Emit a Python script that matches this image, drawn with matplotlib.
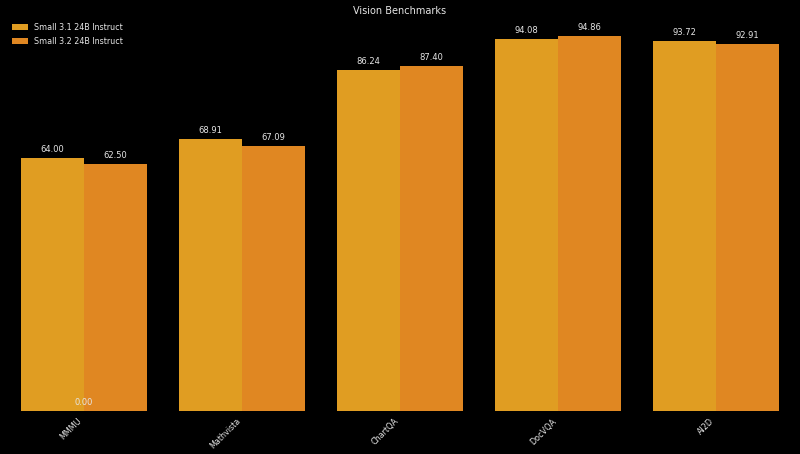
import numpy as np
import matplotlib.pyplot as plt

# datos del grafico
benchmarks = ['MMMU', 'Mathvista', 'ChartQA', 'DocVQA', 'AI2D']
small_31 = [64.00, 68.91, 86.24, 94.08, 93.72]
small_32 = [62.50, 67.09, 87.40, 94.86, 92.91]
series_names = ['Small 3.1 24B Instruct', 'Small 3.2 24B Instruct']
colors = ['#E09D22', '#E08722']

txt = '#e6e6e6'
x = np.arange(len(benchmarks))
w = 0.4

fig = plt.figure(figsize=(8, 4.54), dpi=100, facecolor='black')
ax = fig.add_axes([0.006, 0.0947, 0.988, 0.87])
ax.set_facecolor('black')

b1 = ax.bar(x - w/2, small_31, w, color=colors[0], label=series_names[0])
b2 = ax.bar(x + w/2, small_32, w, color=colors[1], label=series_names[1])
# barra vacia que deja el "0.00" en MMMU
b0 = ax.bar([x[0]], [0], w, color=colors[0])

for bars in (b1, b2, b0):
    ax.bar_label(bars, fmt='%.2f', padding=3, fontsize=6, color=txt)

ax.set_xlim(-0.5, len(benchmarks) - 0.5)
ax.set_ylim(0, 100)
ax.set_xticks(x)
ax.set_xticklabels(benchmarks, rotation=45, ha='right', fontsize=5.8, color=txt)
ax.tick_params(axis='x', length=0, pad=4)
ax.set_yticks([])
for s in ax.spines.values():
    s.set_visible(False)

ax.set_title('Vision Benchmarks', fontsize=7, color=txt, pad=1.5)
leg = ax.legend(loc='upper left', frameon=False, fontsize=5.8, labelcolor=txt,
                handlelength=2.0, handleheight=0.8, labelspacing=0.65,
                handletextpad=0.75, borderaxespad=0.45)

fig.savefig('out.png', dpi=100, facecolor='black')
